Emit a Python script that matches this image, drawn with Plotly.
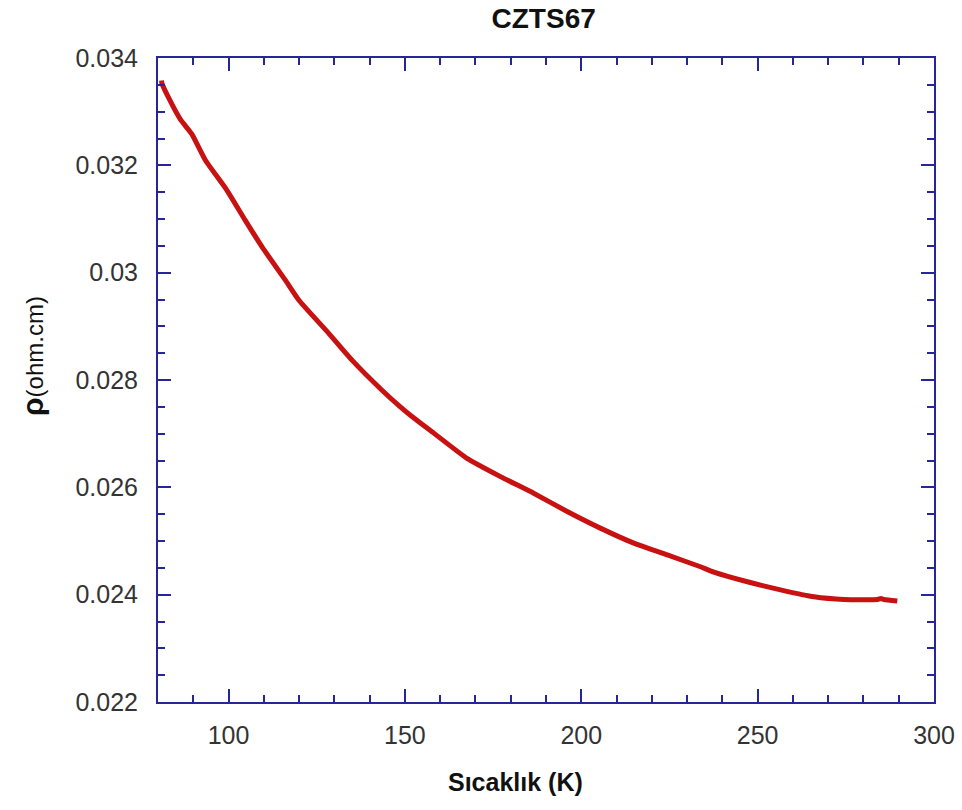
import plotly.graph_objects as go

# Resistivity vs temperature for sample CZTS67
temperature_K = [81.0, 81.1, 83.0, 86.3, 89.6, 93.4, 99.5, 104.7, 109.5, 116.1, 119.9,
                 128.4, 135.0, 143.5, 148.7, 152.0, 158.2, 167.6, 177.1, 186.5,
                 196.0, 205.4, 214.9, 224.4, 233.8, 237.6, 247.1, 256.5, 266.0,
                 274.5, 284.0, 285.0, 285.8, 289.6]
resistivity = [0.03358, 0.03353, 0.03326, 0.03286, 0.03258, 0.03210, 0.03154, 0.03098,
               0.03048, 0.02986, 0.02949, 0.02887, 0.02837, 0.02781, 0.02750,
               0.02732, 0.02701, 0.02654, 0.02620, 0.02589, 0.02555, 0.02524,
               0.02496, 0.02474, 0.02452, 0.02442, 0.02424, 0.02409, 0.02396,
               0.02391, 0.02391, 0.02393, 0.02391, 0.02388]

x_ticks = [100, 150, 200, 250, 300]
x_tick_labels = ["100", "150", "200", "250", "300"]
y_ticks = [0.022, 0.024, 0.026, 0.028, 0.030, 0.032, 0.034]
y_tick_labels = ["0.022", "0.024", "0.026", "0.028", "0.03", "0.032", "0.034"]

AXIS_COLOR = "#26269a"
FONT = "Arial, Liberation Sans, sans-serif"

fig = go.Figure()
fig.add_trace(go.Scatter(
    x=temperature_K, y=resistivity, mode="lines",
    line=dict(color="#c81212", width=5, shape="spline", smoothing=0.5),
    showlegend=False,
))

axis_common = dict(
    showgrid=False, zeroline=False,
    showline=True, linecolor=AXIS_COLOR, linewidth=2,
    mirror="allticks", ticks="inside", tickcolor=AXIS_COLOR,
    tickwidth=2, ticklen=13,
    tickfont=dict(family=FONT, size=25, color="#333333"),
)

fig.update_layout(
    width=962, height=810,
    paper_bgcolor="white", plot_bgcolor="white",
    margin=dict(l=158, r=28, t=58, b=108, autoexpand=False),
    title=dict(text="<b>CZTS67</b>", x=0.497, xref="paper", xanchor="center",
               y=1 - 18 / 810, yref="container", yanchor="middle",
               font=dict(family=FONT, size=28, color="#111111")),
    xaxis=dict(range=[80, 300], tickvals=x_ticks, ticktext=x_tick_labels,
               ticklabelstandoff=10,
               minor=dict(dtick=10, tick0=80, ticks="inside", ticklen=7,
                          tickwidth=2, tickcolor=AXIS_COLOR, showgrid=False),
               **axis_common),
    yaxis=dict(range=[0.022, 0.034], tickvals=y_ticks, ticktext=y_tick_labels,
               ticklabelstandoff=13,
               minor=dict(dtick=0.0005, tick0=0.022, ticks="inside", ticklen=7,
                          tickwidth=2, tickcolor=AXIS_COLOR, showgrid=False),
               **axis_common),
    annotations=[
        dict(text="<b>Sıcaklık (K)</b>", xref="paper", yref="paper",
             x=(515.5 - 158) / 776, y=(702 - 782) / 644,
             xanchor="center", yanchor="middle", showarrow=False,
             font=dict(family=FONT, size=25, color="#111111")),
        dict(text="<b><span style='font-size:30px'>ρ</span></b>(ohm.cm)",
             xref="paper", yref="paper",
             x=(32 - 158) / 776, y=(702 - 356) / 644,
             xanchor="center", yanchor="middle", textangle=-90, showarrow=False,
             font=dict(family=FONT, size=24, color="#111111")),
    ],
)

fig.write_html("out.html")
